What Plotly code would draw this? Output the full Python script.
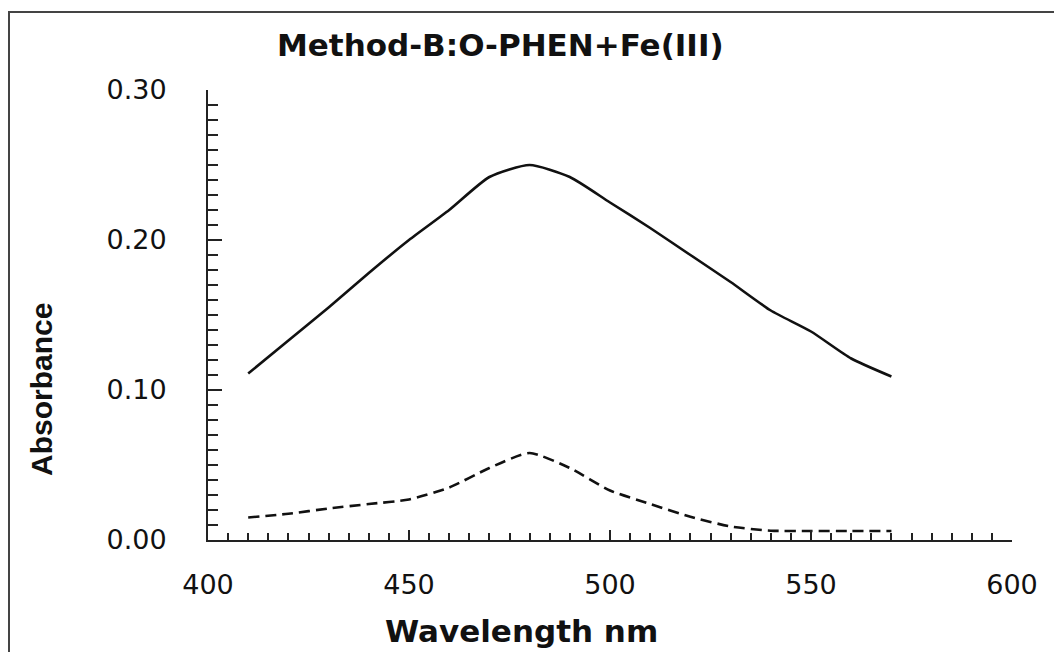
import plotly.graph_objects as go

# Data
wavelength = [410, 420, 430, 440, 450, 460, 470, 480, 490, 500, 510, 520, 530, 540, 550, 560, 570]
absorbance_complex = [0.111, 0.133, 0.155, 0.178, 0.200, 0.220, 0.242, 0.250, 0.242, 0.225, 0.208,
                      0.190, 0.172, 0.153, 0.139, 0.121, 0.109]
absorbance_blank = [0.015, 0.0175, 0.021, 0.024, 0.027, 0.035, 0.048, 0.058, 0.048, 0.033, 0.024,
                    0.0155, 0.009, 0.0062, 0.006, 0.006, 0.006]

x_tickvals = [400, 450, 500, 550, 600]
x_ticktext = ["400", "450", "500", "550", "600"]
y_tickvals = [0.0, 0.1, 0.2, 0.3]
y_ticktext = ["0.00", "0.10", "0.20", "0.30"]

title_text = "Method-B:O-PHEN+Fe(III)"
x_title = "Wavelength nm"
y_title = "Absorbance"

ink = "#111111"
axis_col = "#222222"
frame_col = "#444444"

# figure geometry (page body adds an 8px offset)
W, H = 1054, 644
L, R, T, B = 200, 50, 82, 112
PW, PH = W - L - R, H - T - B


def px(fx):
    return (fx - L) / PW


def py(fy):
    return (H - B - fy) / PH


fig = go.Figure()
fig.add_trace(go.Scatter(x=wavelength, y=absorbance_complex, mode="lines",
                         line=dict(color=ink, width=2.6, shape="spline", smoothing=0.6),
                         showlegend=False, hoverinfo="skip"))
fig.add_trace(go.Scatter(x=wavelength, y=absorbance_blank, mode="lines",
                         line=dict(color=ink, width=2.6, shape="spline", smoothing=0.6, dash="11px,6px"),
                         showlegend=False, hoverinfo="skip"))

tick_font = dict(family="DejaVu Sans", size=27, color=ink)

fig.update_layout(
    width=W, height=H,
    margin=dict(l=L, r=R, t=T, b=B),
    paper_bgcolor="white", plot_bgcolor="white",
    xaxis=dict(range=[400, 600], tickvals=x_tickvals, ticktext=x_ticktext,
               showgrid=False, zeroline=False, showline=True, linecolor=axis_col, linewidth=2,
               ticks="inside", ticklen=10, tickwidth=2, tickcolor=axis_col,
               minor=dict(ticks="inside", dtick=5, ticklen=7, tickwidth=2, tickcolor=axis_col, showgrid=False),
               tickfont=tick_font, ticklabelstandoff=20, fixedrange=True),
    yaxis=dict(range=[0, 0.30], tickvals=y_tickvals, ticktext=y_ticktext,
               showgrid=False, zeroline=False, showline=True, linecolor=axis_col, linewidth=2,
               ticks="inside", ticklen=14, tickwidth=2, tickcolor=axis_col,
               minor=dict(ticks="inside", dtick=0.01, ticklen=10, tickwidth=2, tickcolor=axis_col, showgrid=False),
               tickfont=tick_font, ticklabelstandoff=34, fixedrange=True),
    shapes=[
        dict(type="line", xref="paper", yref="paper", x0=px(1), x1=px(1), y0=-0.6, y1=py(4),
             line=dict(color=frame_col, width=2), layer="below"),
        dict(type="line", xref="paper", yref="paper", x0=px(0), x1=1.3, y0=py(4), y1=py(4),
             line=dict(color=frame_col, width=2), layer="below"),
    ],
    annotations=[
        dict(text="<b>" + title_text + "</b>", xref="paper", yref="paper",
             x=px(492), y=py(37), xanchor="center", yanchor="middle",
             showarrow=False, font=dict(family="DejaVu Sans", size=31, color=ink)),
        dict(text="<b>" + x_title + "</b>", xref="paper", yref="paper",
             x=px(513), y=py(623), xanchor="center", yanchor="middle",
             showarrow=False, font=dict(family="DejaVu Sans", size=31, color=ink)),
        dict(text="<b>" + y_title + "</b>", xref="paper", yref="paper", textangle=-90,
             x=px(33), y=py(382), xanchor="center", yanchor="middle",
             showarrow=False, font=dict(family="Liberation Sans", size=30, color=ink)),
    ],
)

fig.write_html("out.html", config={"displayModeBar": False})
